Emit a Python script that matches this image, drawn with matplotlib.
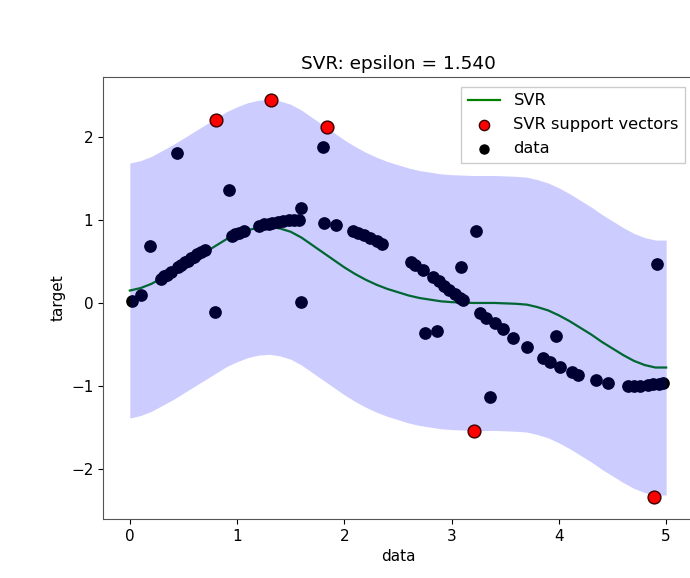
import matplotlib
matplotlib.use("Agg")
import matplotlib.pyplot as plt

# ---- data ----
epsilon = 1.54

svr_x = [0.0, 0.1, 0.2, 0.3, 0.4, 0.5, 0.6, 0.7, 0.8, 0.9, 1.0, 1.1, 1.2, 1.3, 1.4, 1.5,
         1.6, 1.7, 1.8, 1.9, 2.0, 2.1, 2.2, 2.3, 2.4, 2.5, 2.6, 2.7, 2.8, 2.9, 3.0, 3.2,
         3.4, 3.6, 3.7, 3.8, 3.9, 4.0, 4.1, 4.2, 4.3, 4.4, 4.5, 4.6, 4.7, 4.8, 4.9, 5.0]
svr_y = [0.15, 0.18, 0.23, 0.30, 0.37, 0.45, 0.53, 0.61, 0.69, 0.77, 0.83, 0.88, 0.91, 0.92,
         0.90, 0.86, 0.79, 0.70, 0.61, 0.52, 0.43, 0.35, 0.28, 0.22, 0.17, 0.13, 0.09, 0.06,
         0.04, 0.02, 0.01, 0.00, 0.00, -0.01, -0.02, -0.05, -0.09, -0.15, -0.22, -0.30, -0.38,
         -0.47, -0.55, -0.63, -0.70, -0.75, -0.78, -0.78]

data_x = [0.02, 0.10, 0.19, 0.29, 0.32, 0.35, 0.38, 0.44, 0.45, 0.48, 0.51, 0.54, 0.57,
          0.60, 0.63, 0.66, 0.70, 0.79, 0.80, 0.92, 0.95, 0.98, 1.02, 1.06, 1.20, 1.25,
          1.30, 1.32, 1.33, 1.38, 1.43, 1.48, 1.53, 1.58, 1.60, 1.60, 1.80, 1.81, 1.84,
          1.92, 2.08, 2.13, 2.18, 2.24, 2.30, 2.35, 2.62, 2.66, 2.73, 2.75, 2.83, 2.86,
          2.88, 2.93, 2.98, 3.03, 3.08, 3.09, 3.11, 3.21, 3.23, 3.26, 3.32, 3.36, 3.40,
          3.48, 3.57, 3.70, 3.85, 3.92, 3.97, 4.01, 4.12, 4.18, 4.35, 4.46, 4.64, 4.70,
          4.76, 4.83, 4.88, 4.89, 4.91, 4.93, 4.97]
data_y = [0.02, 0.10, 0.69, 0.29, 0.32, 0.34, 0.37, 1.81, 0.44, 0.46, 0.49, 0.51, 0.54,
          0.56, 0.59, 0.61, 0.64, -0.11, 2.21, 1.36, 0.81, 0.83, 0.85, 0.87, 0.93, 0.95,
          0.96, 2.45, 0.97, 0.98, 0.99, 1.00, 1.00, 1.00, 0.01, 1.15, 1.89, 0.97, 2.13,
          0.94, 0.87, 0.85, 0.82, 0.79, 0.75, 0.71, 0.50, 0.46, 0.40, -0.36, 0.31, -0.34,
          0.26, 0.21, 0.16, 0.11, 0.06, 0.43, 0.03, -1.55, 0.87, -0.12, -0.18, -1.14, -0.24,
          -0.31, -0.42, -0.53, -0.67, -0.71, -0.40, -0.77, -0.83, -0.87, -0.93, -0.97, -1.00, -1.00,
          -1.00, -0.99, -0.98, -2.34, 0.47, -0.98, -0.97]

sv_x = [0.80, 1.32, 1.84, 3.21, 4.89]
sv_y = [2.21, 2.45, 2.13, -1.55, -2.34]

# ---- figure ----
W, H = 690, 578
fig = plt.figure(figsize=(W / 100, H / 100), dpi=100)
ax = fig.add_axes([103 / W, 1 - 519 / H, (693 - 103) / W, (519 - 77) / H])

line, = ax.plot(svr_x, svr_y, color="green", lw=1.6, label="SVR", zorder=2)
data_sc = ax.scatter(data_x, data_y, color="black", s=66, label="data", zorder=2)
ax.fill_between(svr_x, [v - epsilon for v in svr_y], [v + epsilon for v in svr_y],
                color="blue", alpha=0.2, lw=0, zorder=3)
sv_sc = ax.scatter(sv_x, sv_y, facecolor="red", edgecolor="#3a0000", linewidths=1.0,
                   s=85, label="SVR support vectors", zorder=4)

ax.set_xlim(-0.25, 5.25)
ax.set_ylim(-2.61, 2.73)
ax.set_xticks([0, 1, 2, 3, 4, 5])
ax.set_yticks([-2, -1, 0, 1, 2])
ax.tick_params(labelsize=11)
ax.set_xlabel("data", fontsize=11)
ax.set_ylabel("target", fontsize=11)
ax.set_title("SVR: epsilon = 1.540", fontsize=13.3)

ax.legend(handles=[line, sv_sc, data_sc], loc="upper right", fontsize=11.7,
          bbox_to_anchor=(0.987, 0.978), borderaxespad=0, labelspacing=0.55,
          markerscale=0.8, framealpha=1.0, fancybox=False, edgecolor="#cccccc")

for s in ax.spines.values():
    s.set_color("#555555")

fig.savefig("out.png", dpi=100)
